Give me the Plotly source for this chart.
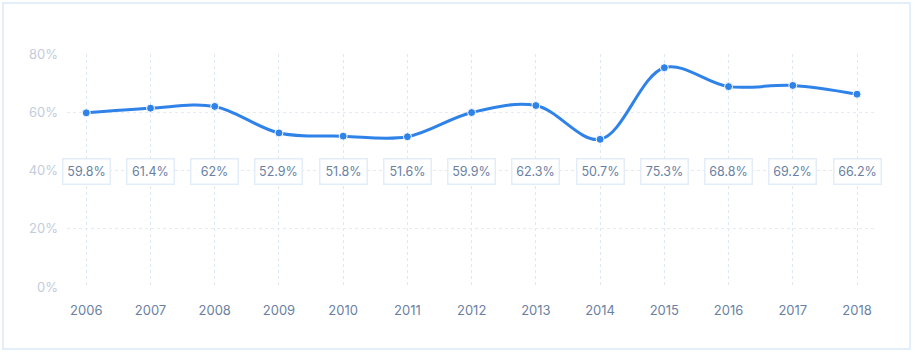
import plotly.graph_objects as go

years = [2006, 2007, 2008, 2009, 2010, 2011, 2012, 2013, 2014, 2015, 2016, 2017, 2018]
values = [59.8, 61.4, 62.0, 52.9, 51.8, 51.6, 59.9, 62.3, 50.7, 75.3, 68.8, 69.2, 66.2]
labels = ["59.8%", "61.4%", "62%", "52.9%", "51.8%", "51.6%", "59.9%", "62.3%", "50.7%", "75.3%", "68.8%", "69.2%", "66.2%"]
y_ticks = [0, 20, 40, 60, 80]
y_tick_text = ["0%", "20%", "40%", "60%", "80%"]

font = "Inter, Lato, sans-serif"

fig = go.Figure()
fig.add_trace(go.Scatter(
    x=years, y=values, mode="lines+markers",
    line=dict(color="#2f82e8", width=3, shape="spline", smoothing=1.0),
    marker=dict(size=8, color="#2f82e8", line=dict(color="white", width=1)),
    hoverinfo="skip", showlegend=False,
))

for yr, lab in zip(years, labels):
    fig.add_annotation(
        x=yr, y=39.5, text=lab, showarrow=False,
        font=dict(family=font, size=12.5, color="#6a7fa3"),
        bgcolor="white", bordercolor="#e3ecf9", borderwidth=1.5, borderpad=4,
        width=38, height=16,
    )

fig.add_shape(type="rect", xref="paper", yref="paper",
              x0=-64/808, x1=(910-67)/808, y0=-(349-287)/233, y1=(287-3)/233,
              line=dict(color="#e4eefa", width=2), layer="below")

fig.update_layout(
    width=915, height=355,
    margin=dict(l=67, r=40, t=54, b=68),
    paper_bgcolor="white", plot_bgcolor="white",
    font=dict(family=font),
    xaxis=dict(
        range=[2005.7, 2018.28], tickvals=years, ticktext=[str(y) for y in years],
        showgrid=True, gridcolor="#dfe7f1", griddash="3px,3px", gridwidth=1,
        zeroline=False, showline=False, ticks="",
        tickfont=dict(family=font, size=13, color="#6a7fa3"),
        ticklabelstandoff=14,
    ),
    yaxis=dict(
        range=[0, 80], tickvals=y_ticks, ticktext=y_tick_text,
        showgrid=True, gridcolor="#e6ebf3", griddash="3px,3px", gridwidth=1,
        zeroline=False, showline=False, ticks="",
        tickfont=dict(family=font, size=13, color="#c3ccdb"),
        ticklabelstandoff=8,
    ),
)

fig.write_html("out.html", config={"displayModeBar": False},
               post_script="document.body.style.margin='0';document.body.style.padding='0';")
